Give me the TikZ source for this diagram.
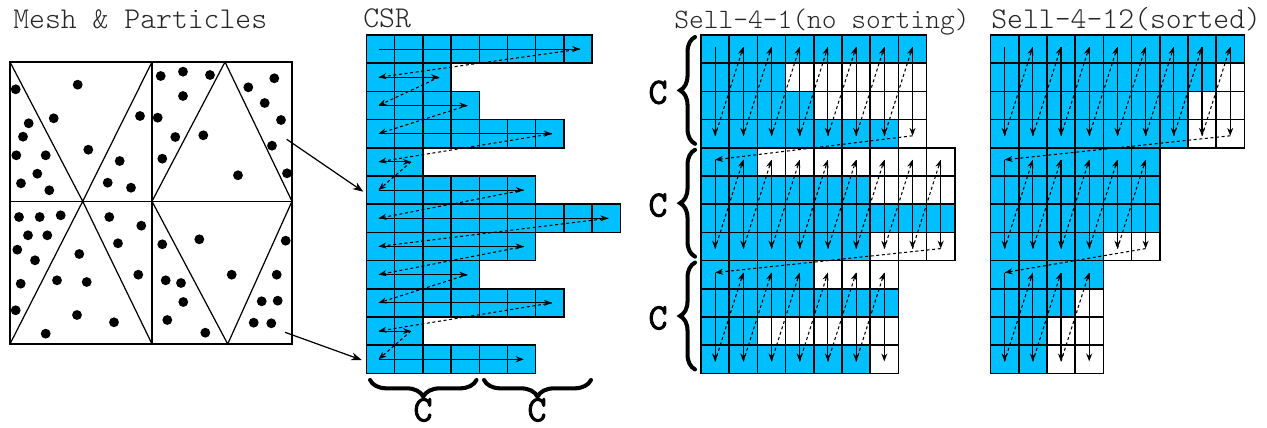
\documentclass[tikz,border=0pt]{standalone}
\usepackage{fontspec}
\newfontfamily\lighttt{Latin Modern Mono Light}
\newfontfamily\heavytt[FakeBold=2.5]{Latin Modern Mono}
\usetikzlibrary{arrows.meta,decorations.pathreplacing}

\definecolor{cellblue}{RGB}{0,191,255}

\tikzset{
  title/.style={font=\lighttt\fontsize{17.2pt}{20pt}\selectfont, text=black!85, anchor=base west, inner sep=0pt},
  chunklabel/.style={font=\heavytt\fontsize{21pt}{24pt}\selectfont, inner sep=0pt},
  meshline/.style={line width=0.7pt},
  cell/.style={draw=black, line width=0.9pt},
  flow/.style={line width=0.6pt, -{Stealth[length=4.5pt,width=3.4pt]}},
  jump/.style={flow, dash pattern=on 1.7pt off 1.5pt},
  maplink/.style={line width=0.7pt, -{Stealth[length=6pt,width=4.5pt]}},
  bigbrace/.style={decorate, decoration={brace, amplitude=#1}, line width=2.3pt, line cap=round},
}

% Sell matrix: #1 name, #2 left x, #3 row length/chunk width, #4 chunk/width
\newcommand{\sellmatrix}[4]{
  \foreach \len/\wid [count=\row] in {#3} {
    \fill[cellblue] (#2,{35+(\row-1)*28.2}) rectangle +({\len*28.2},28.2);
    \foreach \col in {1,...,\wid}
      \draw[cell] ({#2+(\col-1)*28.2},{35+(\row-1)*28.2}) rectangle +(28.2,28.2);
  }
  \foreach \k/\wid in {#4} {
    \foreach \col [evaluate=\col as \prv using int(\col-1)] in {1,...,\wid} {
      \coordinate (#1-\k-\col-t) at ({#2+(\col-0.5)*28.2},{35+(\k-1)*112.8+12});
      \coordinate (#1-\k-\col-b) at ({#2+(\col-0.5)*28.2},{35+\k*112.8-12});
      \draw[flow] (#1-\k-\col-t) -- (#1-\k-\col-b);
      \ifnum\col>1 \draw[jump] (#1-\k-\prv-b) -- (#1-\k-\col-t); \fi
    }
  }
}

\begin{document}
\begin{tikzpicture}[x=0.02cm,y=-0.02cm]
\useasboundingbox (0,0) rectangle (1267,428);

% titles
\node[title] (meshtitle) at (13,29) {Mesh \& Particles};
\node[title] (csrtitle) at (363,28) {CSR};
\node[title,font=\lighttt\fontsize{16pt}{20pt}\selectfont] (unsortedtitle) at (674,29) {Sell-4-1(no sorting)};
\node[title] (sortedtitle) at (991,29) {Sell-4-12(sorted)};

% mesh
\draw[meshline] (10,62) rectangle (292,344);
\draw[meshline] (10,201.3) -- (292,201.3) (152,62) -- (152,344);
\draw[meshline] (10,62) -- (82.7,201.3) -- (152,62);
\draw[meshline] (152,201.3) -- (225,62) -- (292,201.3);
\draw[meshline] (10,344) -- (82.7,201.3) -- (152,344);
\draw[meshline] (152,201.3) -- (227.7,344) -- (292,201.3);

% particles
\foreach \px/\py in {15.7/89.3, 77.7/84.7, 28.7/123.3, 53.7/118.3, 23/136.7, 140/116,
  16.3/155.3, 45.7/155.3, 88.3/149.7, 37.3/173.7, 119.7/161, 21/183.3, 49.3/190.3,
  107.7/182.7, 131/187.7,
  160.7/76, 183/71.7, 210/75, 183/96, 157.7/117.7, 175.3/137, 203.3/135.3, 162.3/158.7,
  238/175.3, 248.3/87.3, 274.3/78.3, 264.7/103, 281/120, 272/145.7, 287/173.3,
  19/217, 39.7/217, 60.7/215.3, 28/235.3, 47.3/235.3, 17.3/249.7, 35/260.3, 79.3/254,
  109.3/217, 141.3/225.7, 118/243.3, 20.7/283.7, 57/280.3, 86.7/282, 138.3/274.7,
  15.7/310.3, 77/315, 114/322.3, 45.7/333.7,
  162.3/244.3, 199.3/239.3, 285.7/240.7, 165.7/280.3, 181/283, 231.7/274.7, 276.7/274.7,
  183.3/302, 261.7/301.3, 277.7/300.7, 167.3/320, 253.7/322.7, 271.3/323.3, 205.3/332.7}
  \fill (\px,\py) circle[radius=2.8pt];

% CSR
\foreach \len [count=\row] in {8,3,4,7,2,6,9,6,4,7,2,6} {
  \fill[cellblue] (366.5,{35+(\row-1)*28.2}) rectangle +({\len*28.2},28.2);
  \foreach \col in {1,...,\len}
    \draw[cell] ({366.5+(\col-1)*28.2},{35+(\row-1)*28.2}) rectangle +(28.2,28.2);
  \coordinate (csr-\row-a) at (378.5,{35+(\row-0.5)*28.2});
  \coordinate (csr-\row-b) at ({366.5+\len*28.2-12},{35+(\row-0.5)*28.2});
}
\foreach \row [evaluate=\row as \nxt using int(\row+1)] in {1,...,12} {
  \draw[flow] (csr-\row-a) -- (csr-\row-b);
  \ifnum\row<12 \draw[jump] (csr-\row-b) -- (csr-\nxt-a); \fi
}

% mesh -> CSR
\coordinate (meshupper) at (286.7,139.3);
\coordinate (meshlower) at (285,332.3);
\coordinate (csrupper) at (363.3,191.7);
\coordinate (csrlower) at (361.7,360);
\draw[maplink] (meshupper) -- (csrupper);
\draw[maplink] (meshlower) -- (csrlower);

% CSR braces
\draw[bigbrace=9.5pt] (476.5,380) -- (370,380);
\draw[bigbrace=9.5pt] (591,380) -- (484,380);
\node[chunklabel] (csrC1) at (423,410) {C};
\node[chunklabel] (csrC2) at (537,410) {C};

% Sell-4-1
\sellmatrix{unsorted}{701}{8/8,3/8,4/8,7/8,2/9,6/9,9/9,6/9,4/7,7/7,2/7,6/7}{1/8,2/9,3/7}
\draw[jump] (unsorted-1-8-b) -- (unsorted-2-1-t);
\draw[jump] (unsorted-2-9-b) -- (unsorted-3-1-t);
\foreach \k in {1,2,3} {
  \draw[bigbrace=8.5pt] (695,{35+\k*112.8-4}) -- (695,{35+(\k-1)*112.8+2});
  \node[chunklabel] (unsortedC\k) at (658,{35+(\k-0.5)*112.8+1}) {C};
}

% Sell-4-12
\sellmatrix{sorted}{990.5}{9/9,8/9,7/9,7/9,6/6,6/6,6/6,4/6,4/4,3/4,2/4,2/4}{1/9,2/6,3/4}
\draw[jump] (sorted-1-9-b) -- (sorted-2-1-t);
\draw[jump] (sorted-2-6-b) -- (sorted-3-1-t);
\end{tikzpicture}
\end{document}
